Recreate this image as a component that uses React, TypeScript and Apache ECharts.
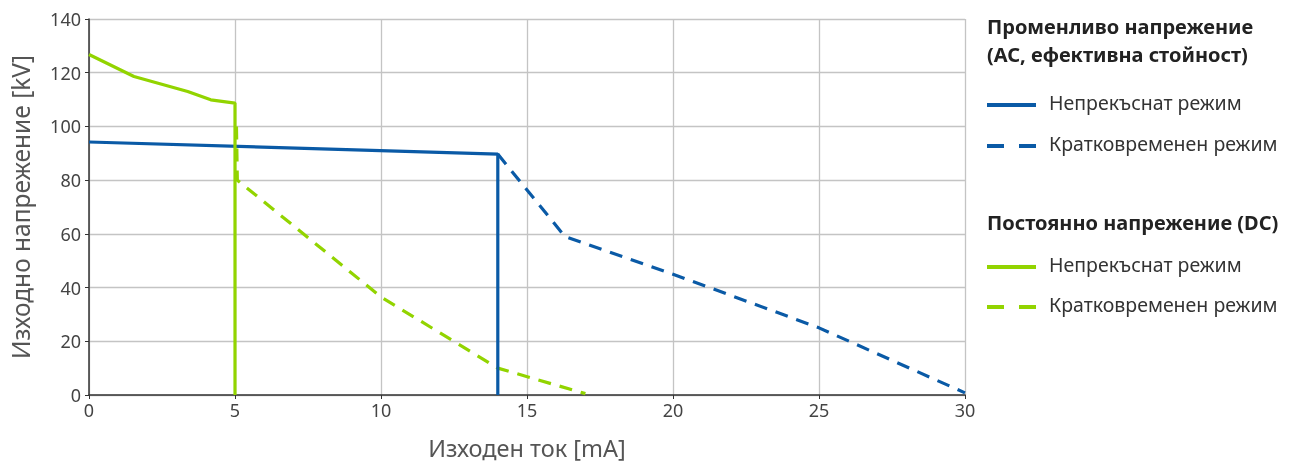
import React, { useEffect, useRef } from "react";
import * as echarts from "echarts";

const xTicks = [0, 5, 10, 15, 20, 25, 30];
const yTicks = [0, 20, 40, 60, 80, 100, 120, 140];

const acContinuous: [number, number][] = [
  [0, 94.2],
  [14, 89.7],
  [14, 0],
];
const acShortTime: [number, number][] = [
  [14, 89.7],
  [16.3, 59],
  [20, 45],
  [25, 25],
  [30, 0.8],
];
const dcContinuous: [number, number][] = [
  [0, 126.8],
  [1.54, 118.6],
  [3.38, 113],
  [4.17, 109.9],
  [5.0, 108.7],
  [5.0, 0],
];
const dcShortTime: [number, number][] = [
  [5.05, 100],
  [5.08, 80],
  [10, 36.5],
  [14, 10],
  [17, 0.5],
];

const BLUE = "#0a5aa6";
const GREEN = "#92d400";

const legendTitles = [
  { text: "Променливо напрежение", y: 30 },
  { text: "(АС, ефективна стойност)", y: 58 },
  { text: "Постоянно напрежение (DC)", y: 226 },
];
const legendItems = [
  { text: "Непрекъснат режим", y: 105, color: BLUE, dashed: false },
  { text: "Кратковременен режим", y: 146, color: BLUE, dashed: true },
  { text: "Непрекъснат режим", y: 267, color: GREEN, dashed: false },
  { text: "Кратковременен режим", y: 307, color: GREEN, dashed: true },
];

export default function App() {
  const ref = useRef<HTMLDivElement>(null);
  useEffect(() => {
    if (!ref.current) return;
    const chart = echarts.init(ref.current, undefined, { renderer: "svg" });
    const font = "'Noto Sans', sans-serif";
    const graphic: any[] = [];
    legendTitles.forEach((t) => {
      graphic.push({
        type: "text",
        left: 987,
        top: t.y - 14,
        style: { text: t.text, font: `bold 20px ${font}`, fill: "#222" },
      });
    });
    legendItems.forEach((it) => {
      graphic.push({
        type: "line",
        shape: { x1: 987, y1: it.y, x2: 1036, y2: it.y },
        style: it.dashed
          ? { stroke: it.color, lineWidth: 4, lineDash: [17, 15] }
          : { stroke: it.color, lineWidth: 4 },
      });
      graphic.push({
        type: "text",
        left: 1049,
        top: it.y - 13,
        style: { text: it.text, font: `19.5px ${font}`, fill: "#333" },
      });
    });

    const lineSeries = (data: [number, number][], color: string, dashed: boolean) => ({
      type: "line",
      data,
      showSymbol: false,
      symbol: "none",
      lineStyle: { color, width: 3.2, type: dashed ? [13, 9] : "solid" },
      z: dashed ? 2 : 3,
    });

    chart.setOption({
      animation: false,
      textStyle: { fontFamily: font },
      grid: { left: 88, right: 325, top: 19, bottom: 64, containLabel: false },
      xAxis: {
        type: "value",
        min: xTicks[0],
        max: xTicks[xTicks.length - 1],
        interval: 5,
        name: "Изходен ток [mA]",
        nameLocation: "middle",
        nameGap: 41,
        nameTextStyle: { fontSize: 23.5, color: "#555", fontFamily: font },
        axisLine: { lineStyle: { color: "#333", width: 1.5 } },
        axisTick: { show: true, length: 4, lineStyle: { color: "#333" } },
        axisLabel: { fontSize: 18, color: "#444", margin: 6, fontFamily: font },
        splitLine: { show: true, lineStyle: { color: "#c4c4c4", width: 1.3 } },
      },
      yAxis: {
        type: "value",
        min: yTicks[0],
        max: yTicks[yTicks.length - 1],
        interval: 20,
        name: "Изходно напрежение [kV]",
        nameLocation: "middle",
        nameGap: 56,
        nameTextStyle: { fontSize: 24.5, color: "#555", fontFamily: font },
        axisLine: { show: true, lineStyle: { color: "#333", width: 1.5 } },
        axisTick: { show: true, length: 4, lineStyle: { color: "#333" } },
        axisLabel: { fontSize: 18, color: "#444", margin: 8, fontFamily: font },
        splitLine: { show: true, lineStyle: { color: "#c4c4c4", width: 1.3 } },
      },
      graphic,
      series: [
        lineSeries(dcShortTime, GREEN, true),
        lineSeries(acShortTime, BLUE, true),
        lineSeries(acContinuous, BLUE, false),
        lineSeries(dcContinuous, GREEN, false),
      ],
    });
    return () => chart.dispose();
  }, []);
  return (
    <div
      ref={ref}
      style={{ position: "fixed", left: 0, top: 0, width: 1290, height: 465 }}
    />
  );
}
